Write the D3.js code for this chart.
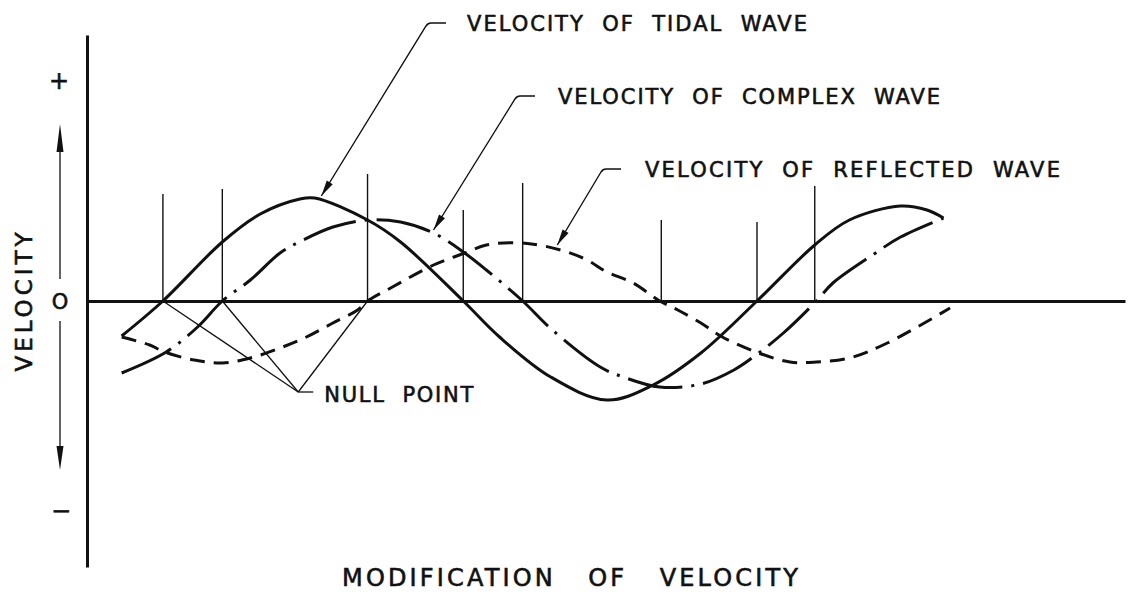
<!DOCTYPE html>
<html>
<head>
<meta charset="utf-8">
<script src="https://cdn.jsdelivr.net/npm/d3@7"></script>
<style>
body { margin: 0; background: #fff; }
svg text { font-family: "DejaVu Sans", sans-serif; fill: #111; stroke: #111; stroke-width: 0.6; white-space: pre; }
</style>
</head>
<body>
<div id="chart"></div>
<script>
// x: phase in degrees of the tidal wave, y: velocity (tidal amplitude = 1)
var tidalX = [-25, 0, 36, 59, 83, 92, 124, 144, 182, 204, 235, 269, 297, 326, 360, 395, 416, 447, 463, 473];
var tidalY = [-0.35, 0, 0.59, 0.87, 1.02, 1.03, 0.81, 0.59, 0, -0.36, -0.76, -0.99, -0.84, -0.52, 0, 0.56, 0.81, 0.95, 0.91, 0.83];

var complexX = [-25, 2, 21, 36, 53, 71, 85, 103, 124, 144, 164, 182, 196, 218, 236, 265, 279, 301, 326, 346, 361, 376, 396, 406, 430, 447, 473];
var complexY = [-0.72, -0.51, -0.26, 0, 0.21, 0.48, 0.61, 0.74, 0.81, 0.79, 0.68, 0.49, 0.31, 0, -0.29, -0.66, -0.76, -0.86, -0.83, -0.69, -0.52, -0.32, 0, 0.18, 0.46, 0.64, 0.83];

var reflectedX = [-25, -8, 1, 19, 36, 53, 71, 87, 103, 118, 124, 138, 164, 183, 196, 218, 241, 257, 269, 285, 301, 312, 326, 339, 361, 380, 396, 416, 439, 477];
var reflectedY = [-0.36, -0.44, -0.51, -0.59, -0.62, -0.57, -0.47, -0.36, -0.22, -0.09, 0, 0.13, 0.36, 0.48, 0.56, 0.58, 0.51, 0.41, 0.29, 0.18, 0, -0.09, -0.22, -0.36, -0.52, -0.61, -0.61, -0.57, -0.42, -0.07];

// vertical reference lines (instants) and their heights
var instantX = [0, 36, 124, 182, 218, 302, 360, 395];
var instantTop = [1.07, 1.12, 1.27, 0.91, 1.18, 0.81, 0.79, 1.15];

// null points
var nullX = [0, 36, 124];
var nullVertex = [82, -0.91];

var width = 1129, height = 592;

var x = d3.scaleLinear().domain([-46, 583]).range([87, 1125]);
var y = d3.scaleLinear().domain([-2.66, 2.66]).range([567, 35]);

var svg = d3.select('#chart').append('svg')
    .attr('width', width)
    .attr('height', height);

function pts(xs, ys) {
    return xs.map(function(d, i) { return [d, ys[i]]; });
}

var line = d3.line()
    .x(function(d) { return x(d[0]); })
    .y(function(d) { return y(d[1]); })
    .curve(d3.curveCatmullRom);

// instants
svg.append('g')
    .selectAll('line')
    .data(instantX)
    .enter().append('line')
    .attr('x1', function(d) { return x(d); })
    .attr('x2', function(d) { return x(d); })
    .attr('y1', function(d, i) { return y(instantTop[i]); })
    .attr('y2', y(0))
    .attr('stroke', '#111')
    .attr('stroke-width', 1.4);

// null point leaders
svg.append('g')
    .selectAll('line')
    .data(nullX)
    .enter().append('line')
    .attr('x1', function(d) { return x(d); })
    .attr('y1', y(0))
    .attr('x2', x(nullVertex[0]))
    .attr('y2', y(nullVertex[1]))
    .attr('stroke', '#111')
    .attr('stroke-width', 1.3);

svg.append('line')
    .attr('x1', x(nullVertex[0]))
    .attr('x2', x(nullVertex[0]) + 15)
    .attr('y1', y(nullVertex[1]))
    .attr('y2', y(nullVertex[1]))
    .attr('stroke', '#111')
    .attr('stroke-width', 1.3);

svg.append('text')
    .attr('x', x(nullVertex[0]) + 26)
    .attr('y', y(nullVertex[1]) + 10)
    .attr('font-size', 21)
    .attr('textLength', 149)
    .attr('lengthAdjust', 'spacing')
    .text('NULL  POINT');

// axes: plain lines, no ticks
svg.append('g')
    .attr('transform', 'translate(' + x(-46) + ',0)')
    .call(d3.axisLeft(y).tickValues([]).tickSizeOuter(0))
    .select('.domain')
    .attr('stroke', '#111')
    .attr('stroke-width', 3);

svg.append('g')
    .attr('transform', 'translate(0,' + y(0) + ')')
    .call(d3.axisBottom(x).tickValues([]).tickSizeOuter(0))
    .select('.domain')
    .attr('stroke', '#111')
    .attr('stroke-width', 3);

// waves
var waves = [
    {data: pts(tidalX, tidalY), dash: null},
    {data: pts(complexX, complexY), dash: '55,9,3,9'},
    {data: pts(reflectedX, reflectedY), dash: '15,9'}
];

svg.append('g')
    .selectAll('path')
    .data(waves)
    .enter().append('path')
    .attr('d', function(d) { return line(d.data); })
    .attr('fill', 'none')
    .attr('stroke', '#111')
    .attr('stroke-width', 3)
    .attr('stroke-dasharray', function(d) { return d.dash; });

function arrowHead(g, tip, from, len, half) {
    var dx = tip[0] - from[0], dy = tip[1] - from[1];
    var l = Math.sqrt(dx * dx + dy * dy);
    var ux = dx / l, uy = dy / l;
    var bx = tip[0] - ux * len, by = tip[1] - uy * len;
    g.append('path')
        .attr('d', 'M' + tip[0] + ',' + tip[1] +
              'L' + (bx - uy * half) + ',' + (by + ux * half) +
              'L' + (bx + uy * half) + ',' + (by - ux * half) + 'Z')
        .attr('fill', '#111');
}

// callouts
var notes = [
    {text: 'VELOCITY  OF  TIDAL  WAVE', at: [96, 1.05], elbow: [428, 23], tx: 467, ty: 31, w: 340},
    {text: 'VELOCITY  OF  COMPLEX  WAVE', at: [164, 0.71], elbow: [517, 96], tx: 558, ty: 104, w: 382},
    {text: 'VELOCITY  OF  REFLECTED  WAVE', at: [239, 0.56], elbow: [603, 169], tx: 645, ty: 177, w: 415}
];

var ng = svg.append('g');
notes.forEach(function(n) {
    var tip = [x(n.at[0]), y(n.at[1])];
    ng.append('path')
        .attr('d', 'M' + (n.elbow[0] + 18) + ',' + n.elbow[1] +
              'L' + (n.elbow[0] + 3) + ',' + n.elbow[1] +
              'Q' + n.elbow[0] + ',' + n.elbow[1] + ' ' + (n.elbow[0] - 2) + ',' + (n.elbow[1] + 3) +
              'L' + tip[0] + ',' + tip[1])
        .attr('fill', 'none')
        .attr('stroke', '#111')
        .attr('stroke-width', 1.4);
    arrowHead(ng, tip, n.elbow, 16, 3.5);
    ng.append('text')
        .attr('x', n.tx)
        .attr('y', n.ty)
        .attr('font-size', 21)
        .attr('textLength', n.w)
        .attr('lengthAdjust', 'spacing')
        .text(n.text);
});

// velocity sense marks on the left
var ax = 60;
var sg = svg.append('g');
sg.append('text').attr('x', ax - 1).attr('y', y(2.2) + 8).attr('text-anchor', 'middle')
    .attr('font-size', 24).text('+');
sg.append('text').attr('x', ax).attr('y', y(0) + 7.5).attr('text-anchor', 'middle')
    .attr('font-size', 21).text('O');
sg.append('text').attr('x', ax + 1).attr('y', y(-2.1) + 8).attr('text-anchor', 'middle')
    .attr('font-size', 24).text('\u2212');

sg.append('line').attr('x1', ax).attr('x2', ax).attr('y1', y(1.5)).attr('y2', y(0.22))
    .attr('stroke', '#111').attr('stroke-width', 1.3);
arrowHead(sg, [ax, y(1.77)], [ax, y(1.0)], 28, 3.5);
sg.append('line').attr('x1', ax).attr('x2', ax).attr('y1', y(-0.2)).attr('y2', y(-1.5))
    .attr('stroke', '#111').attr('stroke-width', 1.3);
arrowHead(sg, [ax, y(-1.69)], [ax, y(-1.0)], 24, 3.5);

// axis titles
svg.append('text')
    .attr('transform', 'translate(32,' + y(-0.01) + ') rotate(-90)')
    .attr('text-anchor', 'middle')
    .attr('font-size', 23)
    .attr('textLength', 139)
    .attr('lengthAdjust', 'spacing')
    .text('VELOCITY');

svg.append('text')
    .attr('x', 342)
    .attr('y', 586)
    .attr('font-size', 24)
    .attr('textLength', 456)
    .attr('lengthAdjust', 'spacing')
    .text('MODIFICATION   OF   VELOCITY');
</script>
</body>
</html>
